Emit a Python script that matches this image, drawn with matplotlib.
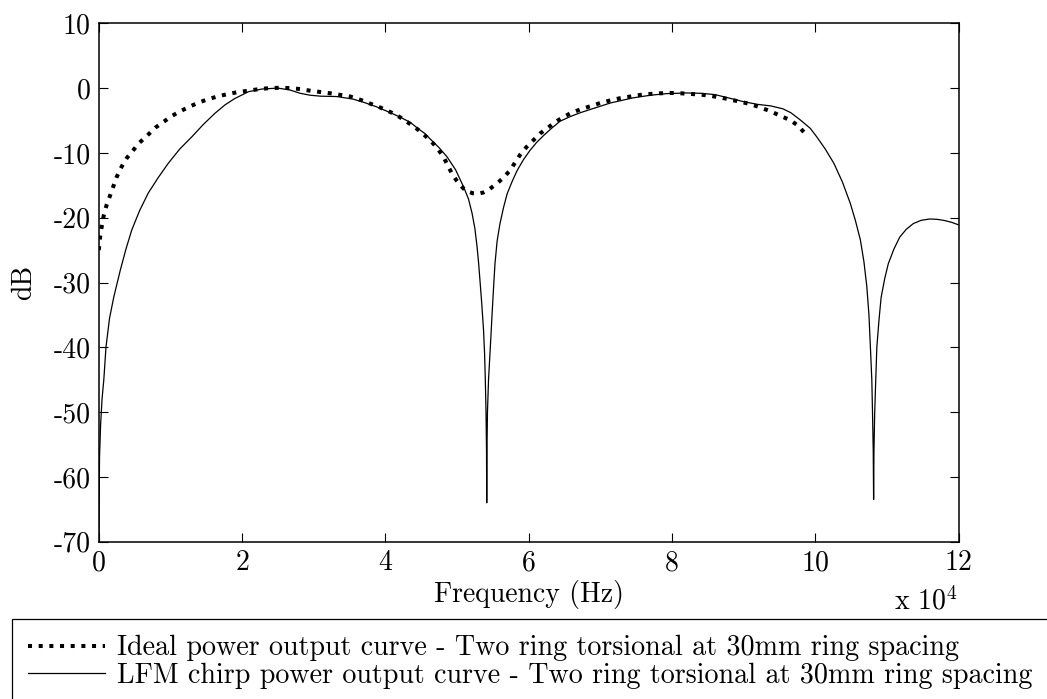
import matplotlib
matplotlib.use("Agg")
import matplotlib.pyplot as plt
from matplotlib.patches import Rectangle
from matplotlib.ticker import FuncFormatter, MultipleLocator

# Ideal power output curve (frequency in Hz, level in dB)
ideal_freq = [0, 200, 400, 700, 1100, 1600, 2500, 3200, 3900, 4800, 5600,
              6500, 7900, 10200, 11500, 12800, 14000, 15300, 16700, 18100,
              19500, 20900, 22400, 23900, 25300, 26700, 28100, 29500, 30900,
              32300, 33700, 35100, 36500, 37900, 39300, 40700, 41900, 43000,
              44200, 45300, 46300, 47200, 48100, 48700, 49300, 49900, 50500,
              51000, 51600, 52300, 53000, 53700, 54400, 55000, 55600, 56500,
              57400, 58100, 58800, 59700, 60700, 61600, 62600, 63400, 64200,
              65800, 67200, 68600, 70000, 71400, 72800, 74200, 75600, 77000,
              78400, 79800, 81200, 82600, 84000, 85400, 86800, 88200, 89600,
              91000, 92400, 93800, 95200, 96600, 97600, 98500]
ideal_db = [-25.0, -22.8, -21.4, -19.6, -18.0, -16.5, -13.7, -12.1, -10.8,
            -9.6, -8.5, -7.6, -6.1, -4.3, -3.5, -2.8, -2.2, -1.7, -1.25, -0.9,
            -0.6, -0.4, -0.15, 0.0, 0.05, 0.0, -0.15, -0.4, -0.6, -0.8, -1.05,
            -1.3, -1.8, -2.4, -3.0, -3.7, -4.4, -5.2, -6.1, -7.1, -8.1, -9.2,
            -10.6, -11.9, -13.2, -14.2, -15.0, -15.6, -16.0, -16.25, -16.3,
            -16.1, -15.7, -15.2, -14.7, -13.8, -12.7, -11.5, -10.3, -9.1, -8.0,
            -7.0, -6.2, -5.5, -4.9, -3.9, -3.3, -2.8, -2.3, -1.9, -1.55, -1.3,
            -1.05, -0.9, -0.8, -0.75, -0.8, -0.9, -1.0, -1.2, -1.45, -1.8,
            -2.1, -2.5, -3.0, -3.6, -4.3, -5.0, -5.8, -6.9]

# LFM chirp power output curve (frequency in Hz, level in dB)
chirp_freq = [0, 100, 250, 450, 700, 1000, 1500, 2100, 3000, 3800, 4600,
              5700, 6900, 8300, 9700, 11300, 13000, 14600, 16200, 17600,
              19000, 20900, 22800, 25000, 26700, 28100, 29500, 31000, 33200,
              35500, 37000, 38800, 40500, 42100, 43500, 44500, 45500, 46300,
              47500, 48600, 49800, 50900, 51600, 52100, 52500, 52800, 53000,
              53200, 53450, 53700, 53850, 53950, 54050, 54120, 54150, 54180,
              54250, 54400, 54650, 54900, 55100, 55300, 55600, 56000, 56500,
              57000, 57700, 58400, 59300, 60200, 61100, 62100, 63200, 64400,
              65800, 67200, 68600, 70000, 71400, 74600, 77000, 79300, 82000,
              84000, 86000, 88200, 90000, 91900, 93800, 95500, 96600, 97900,
              99300, 100200, 101400, 102600, 103800, 104900, 105600, 106300,
              106800, 107200, 107500, 107700, 107900, 108000, 108100, 108150,
              108200, 108300, 108450, 108600, 108900, 109200, 109700, 110200,
              111000, 111800, 112700, 113700, 114800, 116000, 117000, 117900,
              119000, 120000]
chirp_db = [-72.0, -57.0, -52.0, -48.0, -45.0, -40.0, -35.5, -32.2, -28.1,
            -24.8, -21.9, -18.9, -16.2, -13.8, -11.6, -9.4, -7.5, -5.6, -3.9,
            -2.6, -1.6, -0.55, -0.14, 0.0, -0.3, -0.8, -1.1, -1.25, -1.3,
            -1.7, -2.2, -2.9, -3.7, -4.5, -5.3, -6.2, -7.0, -7.9, -9.2, -10.6,
            -12.6, -15.2, -17.1, -19.3, -21.7, -24.5, -26.8, -29.6, -33.2,
            -37.3, -41.0, -45.0, -50.0, -56.0, -64.0, -56.0, -50.0, -45.0,
            -40.0, -34.8, -30.8, -27.1, -23.6, -20.9, -18.4, -16.3, -14.4,
            -12.7, -11.0, -9.6, -8.4, -7.3, -6.2, -5.1, -4.4, -3.8, -3.3,
            -2.8, -2.3, -1.5, -1.1, -0.85, -0.75, -0.8, -1.0, -1.6, -2.1,
            -2.5, -2.75, -3.2, -3.8, -4.9, -6.2, -7.5, -9.4, -11.6, -14.5,
            -17.8, -20.4, -23.4, -26.8, -30.6, -35.0, -39.9, -45.0, -50.2,
            -56.0, -63.5, -56.0, -50.2, -45.0, -40.0, -35.8, -32.3, -29.4,
            -27.1, -24.8, -23.0, -21.8, -20.9, -20.4, -20.2, -20.25, -20.4,
            -20.7, -21.1]

labels = ["Ideal power output curve - Two ring torsional at 30mm ring spacing",
          "LFM chirp power output curve - Two ring torsional at 30mm ring spacing"]

plt.rcParams["font.family"] = ["cmr10", "DejaVu Serif"]
plt.rcParams["mathtext.fontset"] = "cm"
plt.rcParams["axes.unicode_minus"] = False

W, H = 1047, 699
fig = plt.figure(figsize=(W / 100, H / 100), dpi=100)
ax = fig.add_axes([98.8 / W, 1 - 541.7 / H, 859.7 / W, 518.4 / H])

l_ideal, = ax.plot(ideal_freq, ideal_db, color="black", lw=2.9,
                   linestyle=(0, (1.0, 1.65)), dash_capstyle="butt")
l_chirp, = ax.plot(chirp_freq, chirp_db, color="black", lw=0.9)

ax.set_xlim(0, 120000)
ax.set_ylim(-70, 10)
ax.xaxis.set_major_locator(MultipleLocator(20000))
ax.yaxis.set_major_locator(MultipleLocator(10))
ax.xaxis.set_major_formatter(FuncFormatter(lambda v, p: f"{v / 1e4:g}"))
ax.yaxis.set_major_formatter(FuncFormatter(lambda v, p: f"{v:g}"))

tick_fs = 20
ax.tick_params(direction="in", length=6.5, width=0.8, top=True, right=True,
               labelsize=tick_fs, colors="black")
ax.tick_params(axis="x", pad=6)
ax.tick_params(axis="y", pad=6)
for s in ax.spines.values():
    s.set_linewidth(1.1)

ax.set_xlabel("Frequency (Hz)", fontsize=tick_fs)
ax.xaxis.set_label_coords(0.5, -(580 - 541.7) / 518.4)
ax.set_ylabel("dB", fontsize=tick_fs)
ax.yaxis.set_label_coords(-(98.8 - 37) / 859.7, 0.5)

ax.text(1.0, -(610 - 541.7) / 518.4, r"x $10^{4}$", transform=ax.transAxes,
        ha="right", va="baseline", fontsize=tick_fs)

# legend frame running off the figure edge
fig.patches.append(Rectangle((11.7 / W, -0.1), 1.2, (1 - 619.3 / H) + 0.1,
                             transform=fig.transFigure, fill=False,
                             edgecolor="black", lw=0.9))
leg_fs = 20.2
leg_px = leg_fs * 100 / 72
fig.legend([l_ideal, l_chirp], labels, loc="upper left",
           bbox_to_anchor=(28 / W, 1 - 635 / H), bbox_transform=fig.transFigure,
           frameon=False, fontsize=leg_fs, borderpad=0, borderaxespad=0,
           handlelength=77 / leg_px, handletextpad=12 / leg_px,
           labelspacing=0.05)

fig.savefig("out.png", dpi=100)
